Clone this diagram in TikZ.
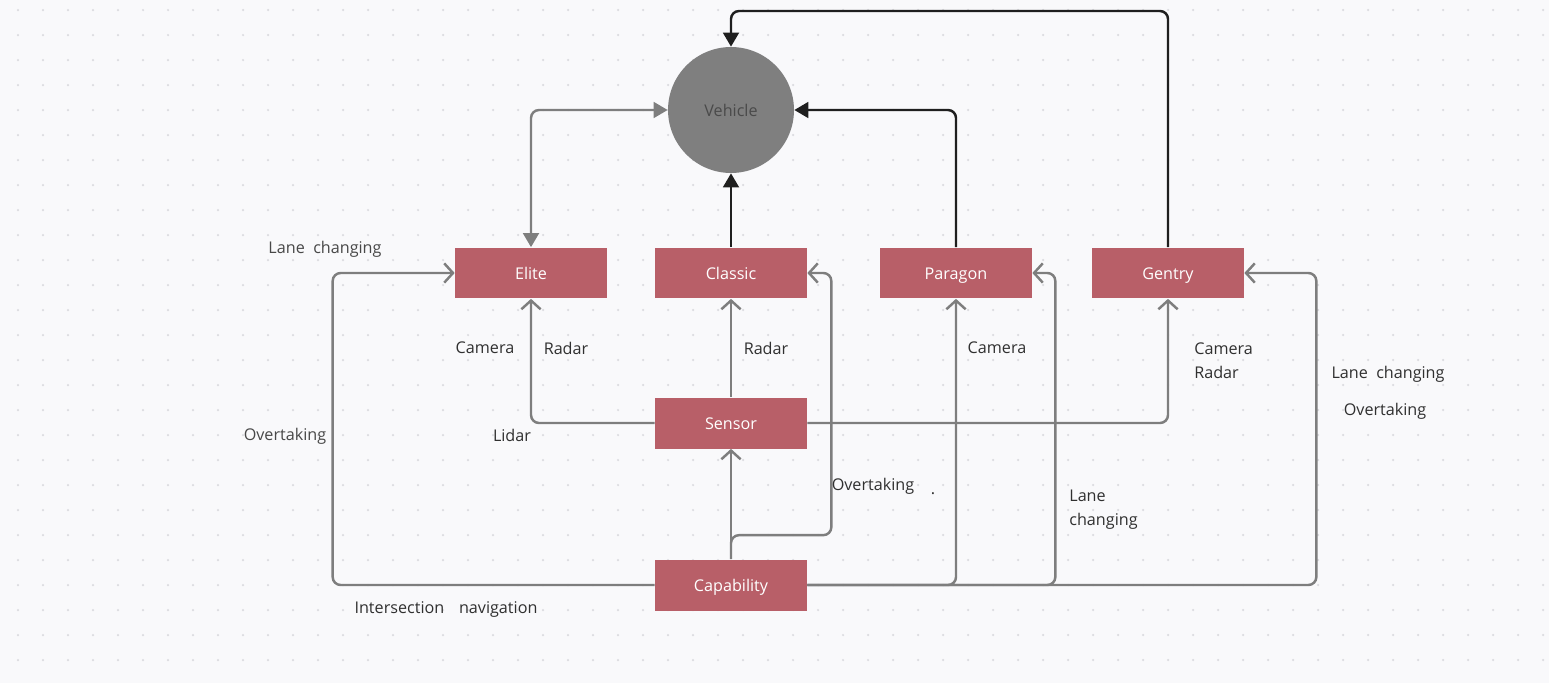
\documentclass[tikz,border=0pt]{standalone}
\usepackage{fontspec}
\setmainfont{Open Sans}
\usetikzlibrary{arrows,arrows.meta,calc}

\definecolor{boxred}{HTML}{B85F68}
\definecolor{hubgray}{HTML}{7F7F7F}
\definecolor{hubtext}{HTML}{4A4A4A}
\definecolor{linegray}{HTML}{7E7E7E}
\definecolor{labelgray}{HTML}{303030}
\definecolor{softgray}{HTML}{484848}
\definecolor{paper}{HTML}{F9F9FB}
\definecolor{gridgray}{HTML}{DCDCE0}

\begin{document}
\begin{tikzpicture}[x=0.02cm,y=-0.02cm,
        box node/.style={rectangle,fill=boxred,text=white,minimum width=3.04cm,
            minimum height=1.02cm,inner sep=0pt,text height=0.72em,text depth=0pt,
            font=\fontsize{9.2}{11}\selectfont},
        hub node/.style={circle,fill=hubgray,text=hubtext,minimum size=2.52cm,
            inner sep=0pt,font=\fontsize{9.2}{11}\selectfont},
        tag/.style={text=labelgray,inner sep=0pt,font=\fontsize{9.2}{13.5}\selectfont},
        feed/.style={draw=linegray,line width=1.4pt,rounded corners=0.16cm,
            -{Straight Barb[length=5pt,width=11pt,line width=1.4pt]}},
        link/.style={draw=black!88,line width=1.4pt,rounded corners=0.16cm,
            -{Triangle[length=8pt,width=9pt]}}]
        % background with dot grid
        \fill[paper] (0,0) rectangle (1549,683);
        \useasboundingbox (0,0) rectangle (1549,683);
        \foreach \gx in {18,43,...,1543}
            \foreach \gy in {10,35,...,660}
                \fill[gridgray] (\gx,\gy) circle[radius=0.025cm];

        \node[hub node] (vehicle) at (731,110) {Vehicle};
        \node[box node] (elite) at (531,273) {Elite};
        \node[box node] (classic) at (731,273) {Classic};
        \node[box node] (paragon) at (956,273) {Paragon};
        \node[box node] (gentry) at (1168,273) {Gentry};
        \node[box node] (sensor) at (731,423) {Sensor};
        \node[box node] (capability) at (731,585) {Capability};

        % to the vehicle
        \coordinate (topturn) at (1168,11);
        \draw[link] (classic.north) -- (vehicle.south);
        \draw[link] (paragon.north) |- (vehicle.east);
        \draw[link] (gentry.north) -- (topturn) -| (vehicle.north);
        \draw[draw=linegray,line width=1.4pt,rounded corners=0.16cm,
            {Triangle[length=8pt,width=9pt]}-{Triangle[length=8pt,width=9pt]}]
            (elite.north) |- (vehicle.west);

        % sensor
        \draw[feed] (sensor.west) -| (elite.south);
        \draw[feed] (sensor.north) -- (classic.south);
        \draw[feed] (sensor.east) -| (gentry.south);

        % capability
        \draw[feed] (capability.north) -- (sensor.south);
        \draw[feed] (capability.north) -- ++(0,-24) -| ($(classic.east)+(24,0)$) -- (classic.east);
        \draw[feed] (capability.east) -| (paragon.south);
        \draw[feed] (capability.east) -| ($(paragon.east)+(23,0)$) -- (paragon.east);
        \draw[feed] (capability.east) -| ($(gentry.east)+(72,0)$) -- (gentry.east);
        \draw[feed] (capability.west) -| ($(elite.west)+(-122,0)$) -- (elite.west);

        % labels
        \node[tag,text=softgray] (lane1) at (325,249) {Lane\ \ changing};
        \node[tag,text=softgray] (over1) at (285,436) {Overtaking};
        \node[tag] (inter) at (446,610) {Intersection\hspace{6pt} navigation};
        \node[tag] (cam1) at (485,348) {Camera};
        \node[tag] (rad1) at (566,348) {Radar};
        \node[tag] (lidar) at (512,435) {Lidar};
        \node[tag] (rad2) at (766,348) {Radar};
        \node[tag] (cam2) at (997,348) {Camera};
        \node[tag,align=left,anchor=west] (camrad) at (1194,361) {Camera\\Radar};
        \node[tag] (over2) at (873,486) {Overtaking};
        \node[tag] (dot) at (933,494) {.};
        \node[tag,align=left,anchor=west] (lane2) at (1069,510) {Lane\\changing};
        \node[tag] (lane3) at (1388,374) {Lane\ \ changing};
        \node[tag] (over3) at (1385,411) {Overtaking};
\end{tikzpicture}
\end{document}
